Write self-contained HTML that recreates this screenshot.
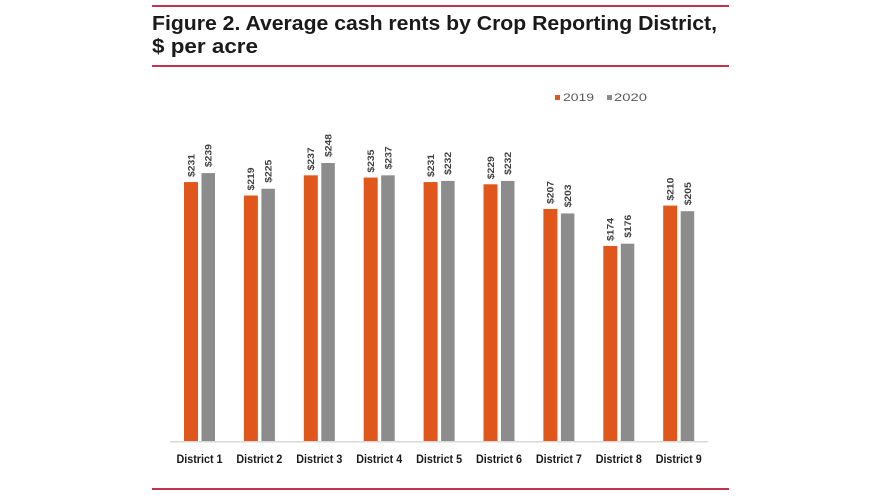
<!DOCTYPE html>
<html>
<head>
<meta charset="utf-8">
<style>
  html, body { margin:0; padding:0; background:#ffffff; }
  svg { display:block; }
  text { font-family: "Liberation Sans", "DejaVu Sans", sans-serif; }
</style>
</head>
<body>
<svg width="889" height="500" viewBox="0 0 889 500" xmlns="http://www.w3.org/2000/svg">
  <rect x="0" y="0" width="889" height="500" fill="#ffffff"/>
  <!-- red rules -->
  <rect x="152" y="5" width="577" height="2" fill="#c3334f"/>
  <rect x="152" y="65" width="577" height="2" fill="#c3334f"/>
  <rect x="152" y="488" width="577" height="2" fill="#c3334f"/>

  <!-- title -->
  <text x="152" y="30" font-size="20" font-weight="bold" fill="#1a1a1a" textLength="565" lengthAdjust="spacingAndGlyphs">Figure 2. Average cash rents by Crop Reporting District,</text>
  <text x="152" y="53" font-size="20" font-weight="bold" fill="#1a1a1a" textLength="106" lengthAdjust="spacingAndGlyphs">$ per acre</text>

  <!-- legend -->
  <rect x="555" y="95" width="5" height="5" fill="#e0571b"/>
  <text x="563" y="101" font-size="11" fill="#595959" textLength="31" lengthAdjust="spacingAndGlyphs">2019</text>
  <rect x="607" y="95" width="5" height="5" fill="#8c8c8c"/>
  <text x="614" y="101" font-size="11" fill="#595959" textLength="33" lengthAdjust="spacingAndGlyphs">2020</text>

  <!-- baseline -->
  <rect x="170" y="441" width="538" height="1.5" fill="#d9d9d9"/>

  <g id="bars"></g>
</svg>
<script>
(function(){
  var ns = "http://www.w3.org/2000/svg";
  var g = document.getElementById("bars");
  var v19 = [231,219,237,235,231,229,207,174,210];
  var v20 = [239,225,248,237,232,232,203,176,205];
  var base = 441, k = 1.121;
  function el(name, attrs, txt){
    var e = document.createElementNS(ns, name);
    for (var a in attrs) e.setAttribute(a, attrs[a]);
    if (txt) e.textContent = txt;
    g.appendChild(e);
    return e;
  }
  for (var i=0;i<9;i++){
    var ox = 184 + 59.9*i;
    var gx = ox + 17.5;
    var h1 = v19[i]*k, h2 = v20[i]*k;
    el("rect",{x:ox,y:base-h1,width:14,height:h1,fill:"#e0571b"});
    el("rect",{x:gx,y:base-h2,width:13.5,height:h2,fill:"#8c8c8c"});
    var c1 = ox+7, c2 = gx+6.75;
    var t1y = base-h1-5, t2y = base-h2-6;
    el("text",{x:0,y:0,"font-size":"9","font-weight":"bold",fill:"#404040",
      transform:"translate("+(c1+3.3)+","+t1y+") rotate(-90)",
      textLength:"23",lengthAdjust:"spacingAndGlyphs"}, "$"+v19[i]);
    el("text",{x:0,y:0,"font-size":"9","font-weight":"bold",fill:"#404040",
      transform:"translate("+(c2+3.3)+","+t2y+") rotate(-90)",
      textLength:"23",lengthAdjust:"spacingAndGlyphs"}, "$"+v20[i]);
    el("text",{x:ox+15.5,y:463,"font-size":"11.5","font-weight":"bold",fill:"#1a1a1a",
      "text-anchor":"middle",textLength:"46",lengthAdjust:"spacingAndGlyphs"}, "District "+(i+1));
  }
})();
</script>
</body>
</html>
